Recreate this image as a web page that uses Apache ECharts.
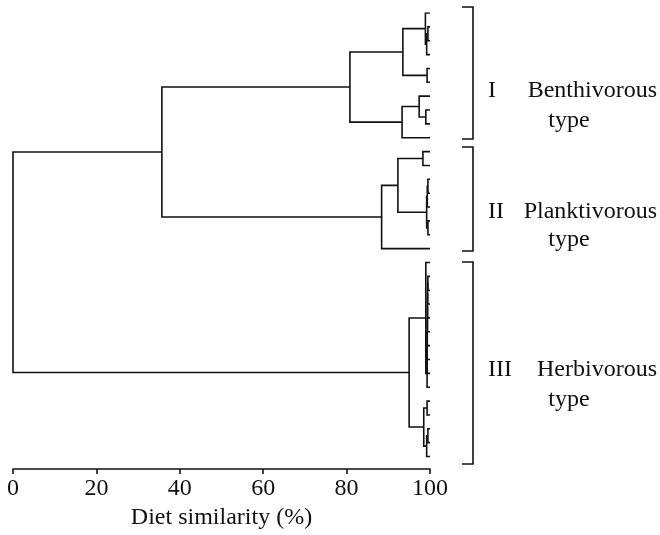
<!DOCTYPE html>
<html>
<head>
<meta charset="utf-8">
<script src="https://cdn.jsdelivr.net/npm/echarts@6/dist/echarts.min.js"></script>
<style>html,body{margin:0;padding:0;background:#fff;}#c{width:660px;height:535px;}</style>
</head>
<body>
<div id="c"></div>
<script>
// Number of leaves (samples), in display order top to bottom
const leafCount = 33;
// Linkage: [childA, childB, similarity %]; leaves are 0..32, new nodes numbered from 33
const merges = [
  [1, 2, 99.5], [33, 3, 99.2], [0, 34, 98.9], [4, 5, 99.3], [35, 36, 93.5],
  [7, 8, 99.0], [6, 38, 97.4], [39, 9, 93.3], [37, 40, 80.8],
  [10, 11, 98.3], [12, 13, 99.5], [43, 14, 99.35], [15, 16, 99.5], [44, 45, 99.2],
  [42, 46, 92.3], [47, 17, 88.4], [41, 48, 35.7],
  [19, 20, 99.5], [50, 21, 99.45], [51, 22, 99.4], [52, 23, 99.4], [53, 24, 99.35],
  [54, 25, 99.3], [55, 26, 99.3], [56, 27, 99.3], [18, 57, 99.0],
  [28, 29, 99.3], [30, 31, 99.5], [60, 32, 99.2], [59, 61, 98.5], [58, 62, 95.0],
  [49, 63, 0]
];
const xTicks = [0, 20, 40, 60, 80, 100];
const groupNames = [
  ['I', 'Benthivorous', 'type'],
  ['II', 'Planktivorous', 'type'],
  ['III', 'Herbivorous', 'type']
];
const axisTitle = 'Diet similarity (%)';

// build node positions
const nodeY = [], nodeH = [];
for (let i = 0; i < leafCount; i++) { nodeY.push(i); nodeH.push(100); }
const links = [];
merges.forEach(m => {
  const [a, b, h] = m;
  links.push({coords: [[nodeH[a], nodeY[a]], [h, nodeY[a]], [h, nodeY[b]], [nodeH[b], nodeY[b]]]});
  nodeY.push((nodeY[a] + nodeY[b]) / 2);
  nodeH.push(h);
});

const font = 'Liberation Serif, Times New Roman, serif';
const ink = '#111';
const chart = echarts.init(document.getElementById('c'));
const textStyle = {fill: ink, font: '24px ' + font};
const brackets = [[7, 139], [147, 251], [262, 464]];
const labelY = [[91, 121], [212, 240], [370, 400]];
const graphics = [];
brackets.forEach((b, i) => {
  graphics.push({type: 'polyline', shape: {points: [[462, b[0]], [473, b[0]], [473, b[1]], [462, b[1]]]},
    style: {stroke: ink, lineWidth: 1.6, fill: null}});
  graphics.push({type: 'text', x: 488, y: labelY[i][0], style: Object.assign({text: groupNames[i][0], textVerticalAlign: 'middle'}, textStyle)});
  graphics.push({type: 'text', x: 657, y: labelY[i][0], style: Object.assign({text: groupNames[i][1], textAlign: 'right', textVerticalAlign: 'middle'}, textStyle)});
  graphics.push({type: 'text', x: 569, y: labelY[i][1], style: Object.assign({text: groupNames[i][2], textAlign: 'center', textVerticalAlign: 'middle'}, textStyle)});
});

chart.setOption({
  animation: false,
  grid: {left: 13, right: 230, top: 13, bottom: 65, containLabel: false},
  xAxis: {
    type: 'value', position: 'bottom', min: xTicks[0], max: xTicks[xTicks.length - 1], interval: 20,
    splitLine: {show: false},
    axisLine: {onZero: false, lineStyle: {color: ink, width: 1.6}},
    axisTick: {length: 5, lineStyle: {color: ink, width: 1.6}},
    axisLabel: {color: ink, fontSize: 24, fontFamily: font, margin: 8},
    name: axisTitle, nameLocation: 'middle', nameGap: 37,
    nameTextStyle: {color: ink, fontSize: 24, fontFamily: font}
  },
  yAxis: {type: 'value', inverse: true, min: 0, max: 32.9, show: false},
  series: [{
    type: 'lines', coordinateSystem: 'cartesian2d', polyline: true,
    lineStyle: {color: ink, width: 1.6, opacity: 1},
    data: links
  }],
  graphic: graphics
});
</script>
</body>
</html>
